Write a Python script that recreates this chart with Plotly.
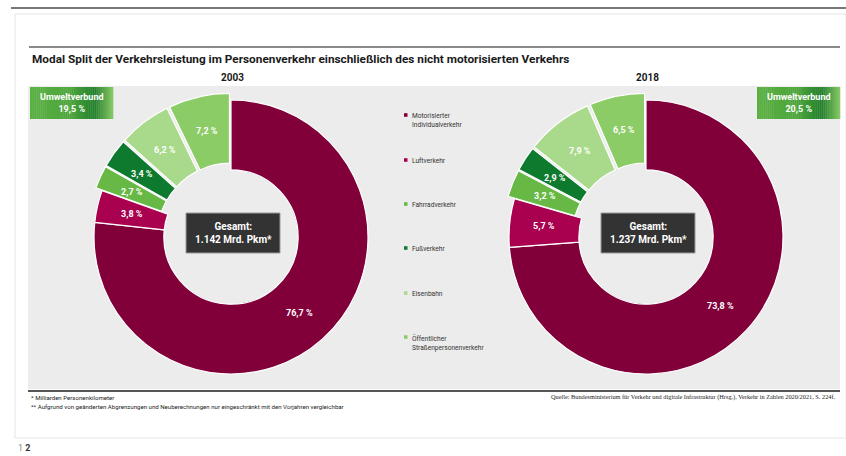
import math
import plotly.graph_objects as go

# ---------------- data ----------------
categories = ["Motorisierter Individualverkehr", "Luftverkehr", "Fahrradverkehr",
              "Fußverkehr", "Eisenbahn", "Öffentlicher Straßenpersonenverkehr"]
legend_labels = ["Motorisierter<br>Individualverkehr", "Luftverkehr", "Fahrradverkehr",
                 "Fußverkehr", "Eisenbahn", "Öffentlicher<br>Straßenpersonenverkehr"]
values_2003 = [76.7, 3.8, 2.7, 3.4, 6.2, 7.2]
values_2018 = [73.8, 5.7, 3.2, 2.9, 7.9, 6.5]
years = ["2003", "2018"]
totals = ["1.142", "1.237"]
umwelt_flags = [False, False, True, True, True, True]   # part of Umweltverbund

colors = ["#82003a", "#a9004f", "#67b845", "#0e7a2d", "#a9da8b", "#8ccc67"]

title = "Modal Split der Verkehrsleistung im Personenverkehr einschließlich des nicht motorisierten Verkehrs"
foot1 = "* Milliarden Personenkilometer"
foot2 = "** Aufgrund von geänderten Abgrenzungen und Neuberechnungen nur eingeschränkt mit den Vorjahren vergleichbar"
source = "Quelle: Bundesministerium für Verkehr und digitale Infrastruktur (Hrsg.), Verkehr in Zahlen 2020/2021, S. 224f."

# ---------------- layout helpers ----------------
W, H = 846, 456
def px(x):
    return x / W
def py(y):
    return 1 - y / H

FONT = "Roboto, Liberation Sans, sans-serif"
PULL = 0.05
R = 137.0
HOLE = 0.49
centers = [(231, 237), (646, 237)]

def fmt(v):
    return f"{v:.1f}".replace(".", ",") + " %"

def ann(text, x, y, size, color, xanchor="center", yanchor="middle", align="center", family=FONT):
    return dict(text=text, x=px(x), y=py(y), xref="paper", yref="paper", showarrow=False,
                xanchor=xanchor, yanchor=yanchor, align=align,
                font=dict(size=size, color=color, family=family))

fig = go.Figure()
shapes = []
annotations = []

# card and decorative lines
shapes.append(dict(type="line", xref="paper", yref="paper", x0=px(11), x1=px(846), y0=py(8), y1=py(8),
                   line=dict(color="#4a4a4a", width=1.5)))
shapes.append(dict(type="rect", xref="paper", yref="paper", x0=px(15), x1=px(846), y0=py(14), y1=py(438),
                   line=dict(color="#e6e6e6", width=1), fillcolor="white", layer="below"))
shapes.append(dict(type="line", xref="paper", yref="paper", x0=px(29), x1=px(840), y0=py(47), y1=py(47),
                   line=dict(color="#8a8a8a", width=2)))
shapes.append(dict(type="rect", xref="paper", yref="paper", x0=px(28), x1=px(840), y0=py(86), y1=py(389),
                   line=dict(width=0), fillcolor="#ececec", layer="below"))
shapes.append(dict(type="line", xref="paper", yref="paper", x0=px(28), x1=px(840), y0=py(391), y1=py(391),
                   line=dict(color="#555555", width=2)))

annotations.append(ann(f"<b>{title}</b>", 30, 59, 11.8, "#1a1a1a", xanchor="left"))

D = 2 * R * (1 + PULL)
for i, (vals, yr, tot) in enumerate(zip([values_2003, values_2018], years, totals)):
    cx, cy = centers[i]
    pulls = [PULL if f else 0 for f in umwelt_flags]
    fig.add_trace(go.Pie(
        values=vals, labels=categories, sort=False, direction="clockwise", rotation=0,
        hole=HOLE, pull=pulls, textinfo="none", hoverinfo="label+value",
        marker=dict(colors=colors, line=dict(color="white", width=1.2)),
        domain=dict(x=[px(cx - D / 2), px(cx + D / 2)], y=[py(cy + D / 2), py(cy - D / 2)]),
        showlegend=False,
    ))
    # slice labels
    total = sum(vals)
    cum = 0.0
    rmid = R * (1 + HOLE) / 2
    for v, f in zip(vals, umwelt_flags):
        ang = 2 * math.pi * (cum + v / 2) / total
        cum += v
        rr = rmid + (PULL * R if f else 0)
        lx = cx + rr * math.sin(ang)
        ly = cy - rr * math.cos(ang)
        annotations.append(ann(f"<b>{fmt(v)}</b>", lx, ly, 9, "white"))
    # year
    annotations.append(ann(f"<b>{yr}</b>", cx + 1, 78, 10, "#1a1a1a"))
    # Gesamt box
    bw, bh = 94, 40
    bxc, byc = cx + 2, cy - 4
    shapes.append(dict(type="rect", xref="paper", yref="paper",
                       x0=px(bxc - bw / 2), x1=px(bxc + bw / 2), y0=py(byc + bh / 2), y1=py(byc - bh / 2),
                       fillcolor="#333333", line=dict(color="#9a9a9a", width=1)))
    annotations.append(ann(f"<b>Gesamt:<br>{tot} Mrd. Pkm*</b>", bxc, byc, 10, "white"))
    # Umweltverbund box with gradient
    uv = sum(v for v, f in zip(vals, umwelt_flags) if f)
    bx0 = 30 if i == 0 else 757
    bx1 = bx0 + 83
    by0, by1 = 87, 119
    stops = [(0.0, (0x5c, 0xb1, 0x43)), (0.5, (0x4d, 0xa5, 0x3c)), (0.78, (0x23, 0x80, 0x2c)), (1.0, (0x8a, 0xca, 0x68))]
    N = 40
    for k in range(N):
        t = (k + 0.5) / N
        for j in range(len(stops) - 1):
            if stops[j][0] <= t <= stops[j + 1][0]:
                a, ca = stops[j]
                b, cb = stops[j + 1]
                u = (t - a) / (b - a)
                c = tuple(int(ca[m] + (cb[m] - ca[m]) * u) for m in range(3))
                break
        shapes.append(dict(type="rect", xref="paper", yref="paper",
                           x0=px(bx0 + (bx1 - bx0) * k / N), x1=px(bx0 + (bx1 - bx0) * (k + 1) / N + 0.3),
                           y0=py(by1), y1=py(by0), line=dict(width=0),
                           fillcolor="rgb(%d,%d,%d)" % c))
    annotations.append(ann(f"<b>Umweltverbund<br>{fmt(uv)}</b>", (bx0 + bx1) / 2, (by0 + by1) / 2, 9, "white"))

# custom legend
leg_y = [115, 160, 204, 248, 293, 337]
for lab, col, yy in zip(legend_labels, colors, leg_y):
    shapes.append(dict(type="rect", xref="paper", yref="paper", x0=px(404), x1=px(407.5),
                       y0=py(yy + 1.8), y1=py(yy - 1.8), fillcolor=col, line=dict(width=0)))
    annotations.append(ann(lab, 410, yy - 5, 6.6, "#333333", xanchor="left", yanchor="top", align="left"))

# footnotes
annotations.append(ann(foot1, 29, 397, 6.1, "#222222", xanchor="left"))
annotations.append(ann(foot2, 29, 406, 6.1, "#222222", xanchor="left"))
annotations.append(ann(source, 838, 397, 6.3, "#222222", xanchor="right", family="Liberation Serif, serif"))
annotations.append(ann("<span style='color:#888'>1</span> <b>2</b>", 16, 448, 9, "#333333", xanchor="left"))

fig.update_layout(width=W, height=H, margin=dict(l=0, r=0, t=0, b=0),
                  paper_bgcolor="white", plot_bgcolor="white",
                  shapes=shapes, annotations=annotations, showlegend=False)
fig.write_html("out.html", config={"displayModeBar": False},
               post_script="document.body.style.margin='0px';document.body.style.overflow='hidden';")
